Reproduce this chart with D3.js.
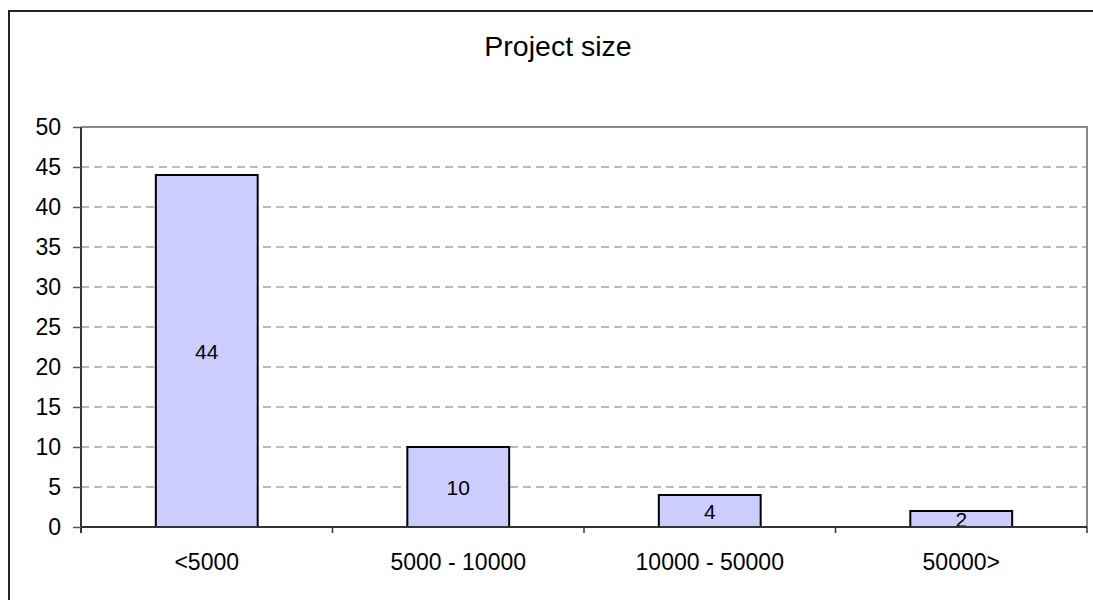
<!DOCTYPE html>
<html>
<head>
<meta charset="utf-8">
<script src="https://cdn.jsdelivr.net/npm/d3@7/dist/d3.min.js"></script>
<style>
  html, body { margin: 0; padding: 0; background: #fff; }
  svg { display: block; }
  text { font-family: "Liberation Sans", Arial, sans-serif; fill: #000; }
</style>
</head>
<body>
<svg id="chart" width="1093" height="600"></svg>
<script>
// Project size distribution
const categories = ["<5000", "5000 - 10000", "10000 - 50000", "50000>"];
const counts = [44, 10, 4, 2];
const yTicks = [0, 5, 10, 15, 20, 25, 30, 35, 40, 45, 50];
const chartTitle = "Project size";

const W = 1093, H = 600;
const plot = { left: 81, top: 127, right: 1087, bottom: 527 };

const svg = d3.select("#chart");

// outer chart frame (runs past the right and bottom edges)
svg.append("rect")
  .attr("x", 9).attr("y", 11)
  .attr("width", W + 20).attr("height", H + 20)
  .attr("fill", "#fff")
  .attr("stroke", "#222").attr("stroke-width", 2);

const x = d3.scaleBand()
  .domain(categories)
  .range([plot.left, plot.right])
  .paddingInner(0).paddingOuter(0);

const y = d3.scaleLinear()
  .domain([0, 50])
  .range([plot.bottom, plot.top]);

const barW = x.bandwidth() * 0.405;

// title
svg.append("text")
  .attr("x", 558).attr("y", 56)
  .attr("text-anchor", "middle")
  .style("font-size", "28.5px")
  .text(chartTitle);

// dashed horizontal gridlines
svg.append("g")
  .selectAll("line")
  .data(yTicks.filter(d => d > 0 && d < 50))
  .join("line")
  .attr("x1", plot.left).attr("x2", plot.right)
  .attr("y1", d => y(d)).attr("y2", d => y(d))
  .attr("stroke", "#7a7a7a").attr("stroke-width", 1.2)
  .attr("stroke-dasharray", "8,5");

// plot-area top and right border
svg.append("path")
  .attr("d", `M${plot.left},${y(50)}H${plot.right}V${plot.bottom}`)
  .attr("fill", "none")
  .attr("stroke", "#888").attr("stroke-width", 2);

// bars
svg.append("g")
  .selectAll("rect")
  .data(categories.map((c, i) => ({ c, v: counts[i] })))
  .join("rect")
  .attr("x", d => x(d.c) + (x.bandwidth() - barW) / 2)
  .attr("y", d => y(d.v))
  .attr("width", barW)
  .attr("height", d => y(0) - y(d.v))
  .attr("fill", "#ccccff")
  .attr("stroke", "#000").attr("stroke-width", 2);

// value labels centred in each bar
svg.append("g")
  .selectAll("text")
  .data(categories.map((c, i) => ({ c, v: counts[i] })))
  .join("text")
  .attr("x", d => x(d.c) + x.bandwidth() / 2)
  .attr("y", d => (y(d.v) + y(0)) / 2)
  .attr("dy", "0.36em")
  .attr("text-anchor", "middle")
  .style("font-size", "21px")
  .text(d => d.v);

// y axis
const yAxis = d3.axisLeft(y).tickValues(yTicks).tickSize(8).tickPadding(12);
const gy = svg.append("g")
  .attr("transform", `translate(${plot.left},0)`)
  .call(yAxis);
gy.select(".domain").attr("stroke", "#333").attr("stroke-width", 2)
  .attr("d", `M0,${plot.top}V${plot.bottom + 6}`);
gy.selectAll(".tick line").attr("stroke", "#555").attr("stroke-width", 1.5);
gy.selectAll(".tick text")
  .style("font-size", "23px")
  .style("font-family", "'Liberation Sans', Arial, sans-serif")
  .attr("fill", "#000");

// x axis: ticks sit on the category boundaries
const boundaries = categories.map(c => x(c)).concat([plot.right]);
svg.append("line")
  .attr("x1", plot.left).attr("x2", plot.right)
  .attr("y1", plot.bottom).attr("y2", plot.bottom)
  .attr("stroke", "#333").attr("stroke-width", 2);
svg.append("g")
  .selectAll("line")
  .data(boundaries.slice(1))
  .join("line")
  .attr("x1", d => d).attr("x2", d => d)
  .attr("y1", plot.bottom).attr("y2", plot.bottom + 6)
  .attr("stroke", "#333").attr("stroke-width", 1.5);

svg.append("g")
  .selectAll("text")
  .data(categories)
  .join("text")
  .attr("x", d => x(d) + x.bandwidth() / 2)
  .attr("y", 570)
  .attr("text-anchor", "middle")
  .style("font-size", "23px")
  .text(d => d);
</script>
</body>
</html>
